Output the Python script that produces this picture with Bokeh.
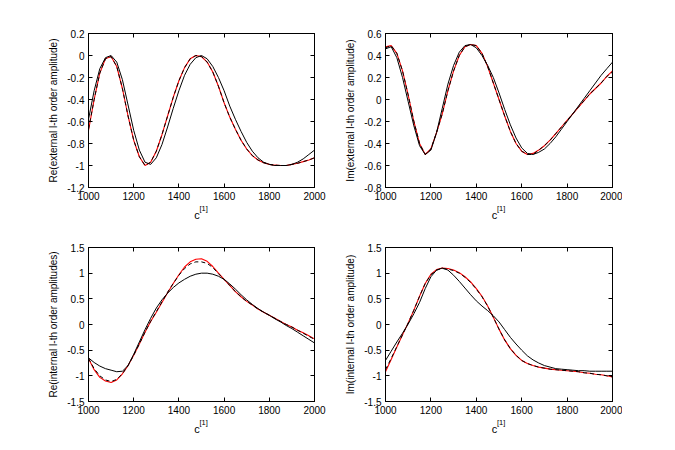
from bokeh.plotting import figure
from bokeh.layouts import column, row
from bokeh.models import LinearAxis, FixedTicker, Range1d, CustomLabelingPolicy
from bokeh.embed import file_html
from bokeh.resources import INLINE

c1 = [1000, 1025, 1050, 1075, 1100, 1125, 1150, 1175, 1200, 1225, 1250, 1275, 1300, 1325,
      1350, 1375, 1400, 1425, 1450, 1475, 1500, 1525, 1550, 1575, 1600, 1625, 1650, 1675,
      1700, 1725, 1750, 1775, 1800, 1825, 1850, 1875, 1900, 1925, 1950, 1975, 2000]

# Re(external)
re_ext_ref = [-0.68, -0.40, -0.16, -0.03, -0.01, -0.10, -0.30, -0.55, -0.77, -0.92, -1.00, -0.97, -0.87, -0.72,
              -0.55, -0.38, -0.23, -0.11, -0.03, 0.00, -0.01, -0.06, -0.15, -0.28, -0.43, -0.56, -0.67, -0.77,
              -0.85, -0.91, -0.95, -0.975, -0.99, -0.997, -1.00, -1.00, -0.99, -0.98, -0.965, -0.95, -0.93]
re_ext_dash = [-0.67, -0.40, -0.16, -0.03, -0.01, -0.10, -0.30, -0.55, -0.77, -0.92, -1.00, -0.97, -0.87, -0.72,
               -0.55, -0.38, -0.23, -0.11, -0.03, 0.00, -0.01, -0.06, -0.15, -0.28, -0.43, -0.56, -0.67, -0.77,
               -0.85, -0.91, -0.95, -0.975, -0.99, -0.997, -1.00, -1.00, -0.99, -0.98, -0.965, -0.95, -0.93]
re_ext_sol = [-0.58, -0.32, -0.12, -0.02, 0.00, -0.06, -0.22, -0.45, -0.68, -0.86, -0.97, -0.99, -0.93, -0.81,
              -0.65, -0.48, -0.32, -0.18, -0.08, -0.02, 0.00, -0.03, -0.10, -0.20, -0.32, -0.46, -0.58, -0.69,
              -0.79, -0.87, -0.93, -0.97, -0.99, -1.00, -1.00, -1.00, -0.99, -0.97, -0.94, -0.90, -0.86]

# Im(external)
im_ext_ref = [0.48, 0.49, 0.42, 0.26, 0.04, -0.20, -0.40, -0.50, -0.45, -0.30, -0.13, 0.08, 0.26, 0.40,
              0.48, 0.50, 0.49, 0.42, 0.30, 0.15, 0.00, -0.15, -0.29, -0.40, -0.47, -0.50, -0.49, -0.46,
              -0.42, -0.37, -0.31, -0.25, -0.19, -0.13, -0.07, -0.01, 0.05, 0.10, 0.15, 0.21, 0.26]
im_ext_dash = [0.47, 0.49, 0.42, 0.26, 0.04, -0.20, -0.40, -0.50, -0.45, -0.30, -0.13, 0.08, 0.26, 0.40,
               0.48, 0.50, 0.49, 0.42, 0.30, 0.15, 0.00, -0.15, -0.29, -0.40, -0.47, -0.50, -0.50, -0.46,
               -0.42, -0.37, -0.31, -0.25, -0.19, -0.13, -0.07, -0.01, 0.05, 0.10, 0.15, 0.21, 0.25]
im_ext_sol = [0.46, 0.48, 0.38, 0.20, -0.02, -0.24, -0.42, -0.50, -0.46, -0.30, -0.08, 0.14, 0.31, 0.43,
              0.49, 0.50, 0.47, 0.40, 0.31, 0.20, 0.06, -0.09, -0.23, -0.35, -0.44, -0.49, -0.50, -0.48,
              -0.45, -0.40, -0.34, -0.27, -0.20, -0.13, -0.06, 0.01, 0.08, 0.15, 0.22, 0.28, 0.34]

# Re(internal)
re_int_ref = [-0.66, -0.88, -1.03, -1.10, -1.13, -1.08, -0.96, -0.80, -0.60, -0.38, -0.15, 0.06, 0.24, 0.43,
              0.62, 0.80, 0.97, 1.12, 1.22, 1.27, 1.28, 1.23, 1.13, 1.00, 0.88, 0.76, 0.64, 0.54,
              0.45, 0.38, 0.30, 0.24, 0.18, 0.12, 0.06, 0.00, -0.05, -0.11, -0.16, -0.22, -0.28]
re_int_dash = [-0.66, -0.86, -1.00, -1.08, -1.11, -1.07, -0.96, -0.80, -0.60, -0.38, -0.15, 0.06, 0.25, 0.44,
               0.63, 0.80, 0.96, 1.09, 1.18, 1.22, 1.22, 1.19, 1.11, 0.99, 0.88, 0.76, 0.64, 0.54,
               0.45, 0.38, 0.30, 0.24, 0.18, 0.12, 0.06, 0.00, -0.05, -0.11, -0.17, -0.23, -0.29]
re_int_sol = [-0.65, -0.74, -0.81, -0.86, -0.89, -0.92, -0.91, -0.80, -0.58, -0.34, -0.10, 0.12, 0.32, 0.48,
              0.61, 0.72, 0.81, 0.88, 0.94, 0.98, 1.00, 1.00, 0.98, 0.94, 0.88, 0.79, 0.69, 0.58,
              0.48, 0.39, 0.31, 0.24, 0.18, 0.11, 0.05, -0.02, -0.08, -0.15, -0.22, -0.29, -0.36]

# Im(internal)
im_int_ref = [-0.92, -0.68, -0.44, -0.20, 0.03, 0.28, 0.55, 0.80, 0.98, 1.07, 1.10, 1.09, 1.06, 1.01,
              0.93, 0.83, 0.70, 0.55, 0.36, 0.14, -0.09, -0.30, -0.47, -0.60, -0.70, -0.76, -0.80, -0.83,
              -0.85, -0.87, -0.88, -0.89, -0.90, -0.91, -0.92, -0.94, -0.95, -0.97, -0.98, -1.00, -1.02]
im_int_dash = [-0.88, -0.66, -0.43, -0.20, 0.03, 0.28, 0.55, 0.80, 0.97, 1.06, 1.09, 1.08, 1.05, 1.00,
               0.92, 0.82, 0.69, 0.54, 0.36, 0.14, -0.09, -0.30, -0.47, -0.60, -0.70, -0.76, -0.80, -0.83,
               -0.85, -0.87, -0.88, -0.89, -0.90, -0.91, -0.92, -0.94, -0.95, -0.97, -0.98, -1.00, -1.02]
im_int_sol = [-0.70, -0.52, -0.34, -0.17, 0.01, 0.21, 0.43, 0.70, 0.93, 1.06, 1.10, 1.06, 0.96, 0.84,
              0.71, 0.58, 0.46, 0.36, 0.27, 0.17, 0.05, -0.10, -0.25, -0.38, -0.50, -0.61, -0.69, -0.75,
              -0.80, -0.83, -0.86, -0.87, -0.88, -0.89, -0.90, -0.90, -0.91, -0.91, -0.91, -0.91, -0.91]

x_ticks = [1000, 1200, 1400, 1600, 1800, 2000]
y_ticks_re_ext = [-1.2, -1.0, -0.8, -0.6, -0.4, -0.2, 0.0, 0.2]
y_ticks_im_ext = [-0.8, -0.6, -0.4, -0.2, 0.0, 0.2, 0.4, 0.6]
y_ticks_int = [-1.5, -1.0, -0.5, 0.0, 0.5, 1.0, 1.5]

ylabels = ["Re(external l-th order amplitude)", "Im(external l-th order amplitude)",
           "Re(internal l-th order amplitudes)", "Im(internal l-th order amplitude)"]
xlabel_base = "c"
xlabel_sup = "[1]"

FONT = "Liberation Sans"
NBSP = "\u00a0"


def fmt(v):
    return "%g" % v


def make(ref, dash, sol, yticks, ylabel, width, height, bl, br, bt, bb):
    p = figure(width=width, height=height, output_backend="svg", toolbar_location=None,
               x_range=Range1d(1000, 2000), y_range=Range1d(yticks[0], yticks[-1]),
               min_border_left=bl, min_border_right=br, min_border_top=bt, min_border_bottom=bb)
    p.grid.visible = False
    p.outline_line_color = "black"
    p.outline_line_width = 1
    p.background_fill_color = "white"
    p.border_fill_color = "white"
    p.line(c1, ref, line_color="red", line_width=1.1)
    p.line(c1, dash, line_color="black", line_width=1, line_dash="4 3")
    p.line(c1, sol, line_color="black", line_width=1)

    xt = FixedTicker(ticks=x_ticks)
    yt = FixedTicker(ticks=yticks)
    for ax in p.xaxis:
        ax.ticker = xt
        ax.major_label_overrides = {t: fmt(t) for t in x_ticks}
        ax.axis_label = NBSP * 2 + xlabel_sup
        ax.axis_label_text_font = FONT
        ax.axis_label_text_font_size = "7.5px"
        ax.axis_label_text_font_style = "normal"
        ax.axis_label_text_color = "black"
        ax.axis_label_standoff = 1
    for ax in p.yaxis:
        ax.ticker = yt
        ax.major_label_overrides = {t: fmt(t) for t in yticks}
        ax.axis_label = ylabel
        ax.axis_label_text_font = FONT
        ax.axis_label_text_font_size = "10px"
        ax.axis_label_text_font_style = "normal"
        ax.axis_label_text_color = "black"
        ax.axis_label_standoff = 5
    for ax in p.axis:
        ax.major_label_text_font = FONT
        ax.major_label_text_font_size = "10px"
        ax.major_label_text_color = "black"
        ax.major_tick_in = 4
        ax.major_tick_out = 0
        ax.minor_tick_line_color = None
        ax.axis_line_color = "black"
        ax.major_tick_line_color = "black"
        ax.major_label_standoff = 4
    no_labels = CustomLabelingPolicy(code="return []")
    ra = LinearAxis(ticker=yt, major_tick_in=4, major_tick_out=0, major_label_policy=no_labels,
                    major_label_text_font_size="1px",
                    minor_tick_line_color=None, axis_line_color="black", major_label_standoff=0)
    ta = LinearAxis(ticker=xt, major_tick_in=4, major_tick_out=0, major_label_policy=no_labels,
                    major_label_text_font_size="1px",
                    minor_tick_line_color=None, axis_line_color="black", major_label_standoff=0)
    p.add_layout(ra, "right")
    p.add_layout(ta, "above")
    ca = LinearAxis(ticker=FixedTicker(ticks=[]), axis_line_color=None, major_tick_line_color=None,
                    minor_tick_line_color=None, major_tick_in=0, major_tick_out=0,
                    axis_label=xlabel_base + NBSP * 3, axis_label_text_font=FONT,
                    axis_label_text_font_size="11px", axis_label_text_font_style="normal",
                    axis_label_text_color="black", axis_label_standoff=-7)
    p.add_layout(ca, "below")
    return p


f1 = make(re_ext_ref, re_ext_dash, re_ext_sol, y_ticks_re_ext, ylabels[0], 328, 228, 88, 14, 33, 41)
f2 = make(im_ext_ref, im_ext_dash, im_ext_sol, y_ticks_im_ext, ylabels[1], 294, 228, 57, 10, 33, 41)
f3 = make(re_int_ref, re_int_dash, re_int_sol, y_ticks_int, ylabels[2], 328, 209, 88, 14, 19, 36)
f4 = make(im_int_ref, im_int_dash, im_int_sol, y_ticks_int, ylabels[3], 294, 209, 57, 10, 19, 36)

layout = column(row(f1, f2), row(f3, f4))
open("out.html", "w").write(file_html(layout, INLINE))
